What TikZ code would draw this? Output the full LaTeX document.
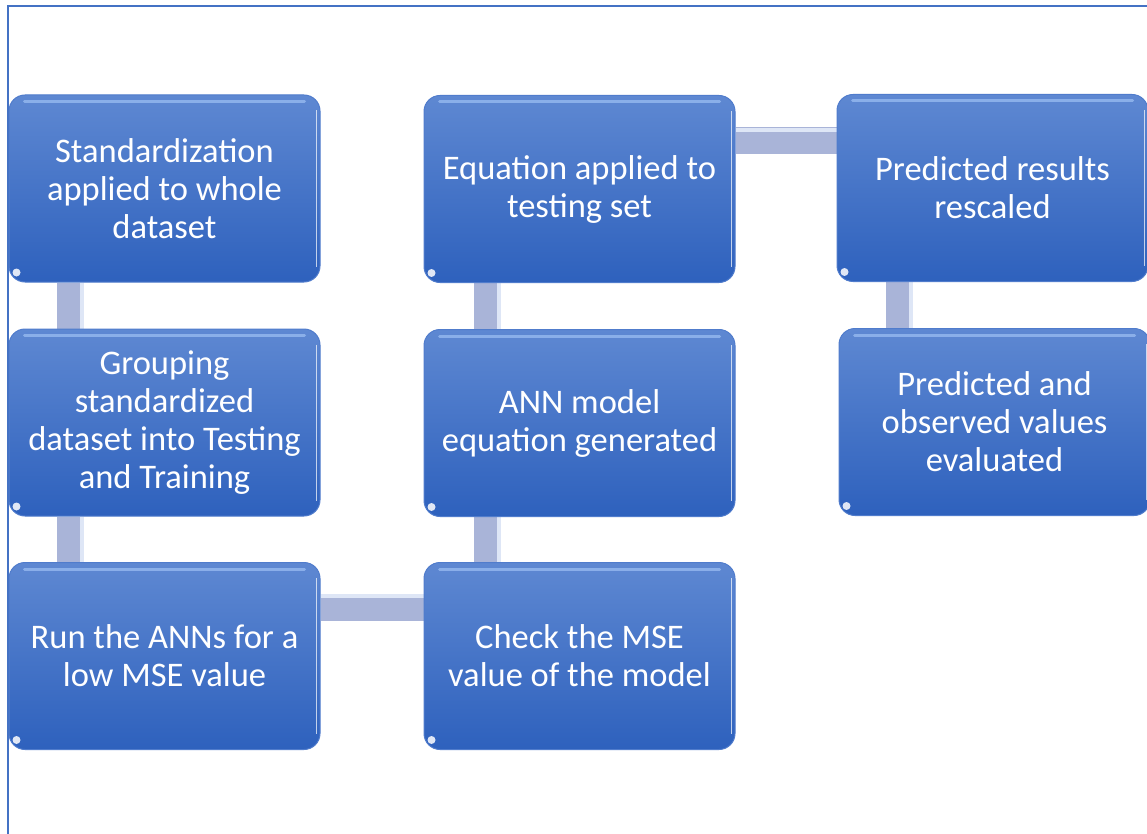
\documentclass[tikz,border=0pt]{standalone}
\usepackage{fontspec}
\setmainfont{Carlito}
\usetikzlibrary{calc}
\definecolor{boxtop}{RGB}{94,136,210}
\definecolor{boxbot}{RGB}{46,97,189}
\definecolor{boxedge}{RGB}{80,124,204}
\definecolor{conncol}{RGB}{169,180,216}
\definecolor{connlight}{RGB}{222,230,246}
\definecolor{framecol}{RGB}{68,114,196}
\definecolor{hicol}{RGB}{150,185,240}
\pgfdeclarelayer{bg}
\pgfdeclarelayer{paper}
\pgfsetlayers{paper,bg,main}
\begin{document}
\begin{tikzpicture}[x=1pt,y=-1pt,
  stepbox/.style={rectangle, rounded corners=16pt, minimum width=311pt, minimum height=187pt,
    top color=boxtop, bottom color=boxbot, draw=boxedge, line width=1pt, text=white,
    align=center, font=\fontsize{34.5}{38}\selectfont, inner sep=0pt},
  conn/.style={draw=conncol, line width=27pt},
  connhi/.style={draw=connlight, line width=4pt},
  tophi/.style={draw=hicol, line width=3pt, line cap=round, opacity=0.8},
  sidehi/.style={draw=white, line width=1.2pt, opacity=0.7}]
\useasboundingbox (0,0) rectangle (1147,834);
\begin{pgfonlayer}{paper}
\fill[white] (0,0) rectangle (1147,834);
\end{pgfonlayer}

\node[stepbox] (a) at (164.5,188.5) {Standardization\\applied to whole\\dataset};
\node[stepbox] (b) at (164.5,422.5) {Grouping\\standardized\\dataset into Testing\\and Training};
\node[stepbox] (c) at (164.5,656) {Run the ANNs for a\\low MSE value};
\node[stepbox] (d) at (579.5,656) {Check the MSE\\value of the model};
\node[stepbox] (e) at (579.5,423) {ANN model\\equation generated};
\node[stepbox] (f) at (579.5,189) {Equation applied to\\testing set};
\node[stepbox] (g) at (992.5,188) {Predicted results\\rescaled};
\node[stepbox] (h) at (994.5,422) {Predicted and\\observed values\\evaluated};

\foreach \n in {a,b,c,d,e,f,g,h}{
  \draw[tophi] ([xshift=16pt,yshift=-7pt]\n.north west) -- ([xshift=-16pt,yshift=-7pt]\n.north east);
  \draw[sidehi] ([xshift=-4pt,yshift=-16pt]\n.north east) -- ([xshift=-4pt,yshift=16pt]\n.south east);
  \fill[white, opacity=0.85] ([xshift=8pt,yshift=10pt]\n.south west) circle (4pt);
}

\coordinate (ab) at ([xshift=62pt]a.south west);
\coordinate (abh) at ([xshift=73pt]a.south west);
\coordinate (bc) at ([xshift=62pt]b.south west);
\coordinate (bch) at ([xshift=73pt]b.south west);
\coordinate (cd) at ([yshift=-45pt]c.north east);
\coordinate (cdh) at ([yshift=-34pt]c.north east);
\coordinate (de) at ([xshift=64pt]d.north west);
\coordinate (deh) at ([xshift=75pt]d.north west);
\coordinate (ef) at ([xshift=64pt]e.north west);
\coordinate (efh) at ([xshift=75pt]e.north west);
\coordinate (fg) at ([yshift=-46pt]f.north east);
\coordinate (fgh) at ([yshift=-35pt]f.north east);
\coordinate (gh) at ([xshift=63pt]g.south west);
\coordinate (ghh) at ([xshift=74pt]g.south west);

\begin{pgfonlayer}{bg}
  \draw[conn] (ab) -- (ab |- b.north);
  \draw[connhi] (abh) -- (abh |- b.north);
  \draw[conn] (bc) -- (bc |- c.north);
  \draw[connhi] (bch) -- (bch |- c.north);
  \draw[conn] (cd) -- (cd -| d.west);
  \draw[connhi] (cdh) -- (cdh -| d.west);
  \draw[conn] (de) -- (de |- e.south);
  \draw[connhi] (deh) -- (deh |- e.south);
  \draw[conn] (ef) -- (ef |- f.south);
  \draw[connhi] (efh) -- (efh |- f.south);
  \draw[conn] (fg) -- (fg -| g.west);
  \draw[connhi] (fgh) -- (fgh -| g.west);
  \draw[conn] (gh) -- (gh |- h.north);
  \draw[connhi] (ghh) -- (ghh |- h.north);
\end{pgfonlayer}

\draw[framecol, line width=2pt] (8,834) -- (8,6) -- (1147,6);
\end{tikzpicture}
\end{document}
